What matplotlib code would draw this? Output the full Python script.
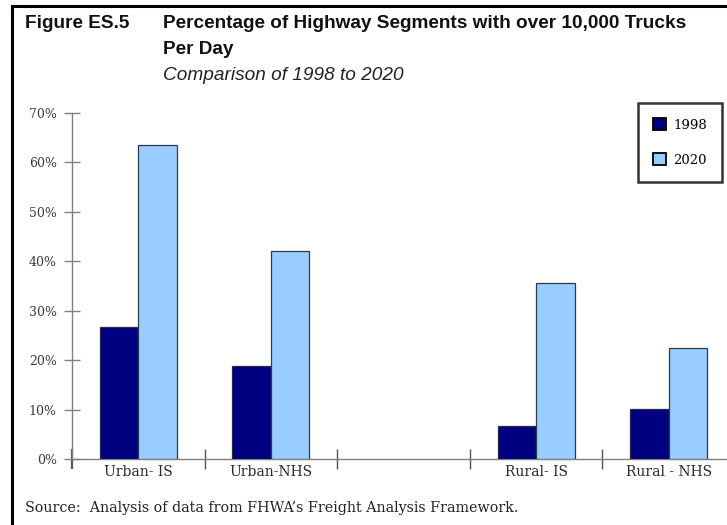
import numpy as np
import matplotlib
matplotlib.use("Agg")
import matplotlib.pyplot as plt
from matplotlib.patches import Patch
from matplotlib.lines import Line2D

# Data: share of highway segments carrying over 10,000 trucks per day
categories = ["Urban- IS", "Urban-NHS", "", "Rural- IS", "Rural - NHS"]
share_1998 = [26.7, 18.8, np.nan, 6.7, 10.1]
share_2020 = [63.6, 42.1, np.nan, 35.6, 22.5]
series_labels = ["1998", "2020"]
ytick_values = [0, 10, 20, 30, 40, 50, 60, 70]

dark = "#000080"
light = "#99CCFF"
axis_gray = "#808080"
serif = ["DejaVu Serif"]
sans = ["Liberation Sans", "DejaVu Sans"]

W, H = 727, 525
fig = plt.figure(figsize=(W / 100, H / 100), dpi=100)

# plot area in pixel coordinates
x0, x1 = 72, 735
y_bottom, y_top = 459, 113
ax = fig.add_axes([x0 / W, 1 - y_bottom / H, (x1 - x0) / W, (y_bottom - y_top) / H])

n = len(categories)
x = np.arange(n)
bw = 0.29
ax.bar(x - bw / 2, share_1998, bw, color=dark, edgecolor="#2a2a40", linewidth=0.9, zorder=3)
ax.bar(x + bw / 2, share_2020, bw, color=light, edgecolor="#2a3a50", linewidth=0.9, zorder=3)

ax.set_xlim(-0.5, n - 0.5)
ax.set_ylim(0, 70)

for s in ["top", "right"]:
    ax.spines[s].set_visible(False)
for s in ["left", "bottom"]:
    ax.spines[s].set_color(axis_gray)
    ax.spines[s].set_linewidth(1.0)

ax.set_yticks(ytick_values)
ax.set_yticklabels([f"{v}%" for v in ytick_values], fontfamily=serif, fontsize=9,
                   color="#3a3a3a")
ax.tick_params(axis="y", direction="inout", length=12, width=1, color=axis_gray, pad=5)

# category separators as major ticks, names centred as minor ticks
ax.set_xticks(np.arange(-0.5, n, 1.0))
ax.set_xticklabels([])
ax.tick_params(axis="x", which="major", direction="inout", length=15, width=1, color="#555555")
ax.xaxis.get_major_ticks()[0].tick1line.set_color("black")
ax.xaxis.get_major_ticks()[0].tick1line.set_markeredgewidth(1.6)
ax.set_xticks(x, minor=True)
ax.set_xticklabels(categories, minor=True, fontfamily=serif, fontsize=10, color="#2a2a2a")
ax.tick_params(axis="x", which="minor", length=0, pad=4)

# legend
handles = [Patch(facecolor=dark, edgecolor="black", linewidth=1.3),
           Patch(facecolor=light, edgecolor="black", linewidth=1.3)]
leg = fig.legend(handles, series_labels, loc="upper left",
                 bbox_to_anchor=(638 / W, 1 - 103 / H),
                 prop={"family": serif, "size": 9.5},
                 frameon=True, fancybox=False, handlelength=1.0, handleheight=1.0,
                 handletextpad=0.5, labelspacing=1.65, borderpad=1.15,
                 borderaxespad=0)
leg.get_frame().set_edgecolor("black")
leg.get_frame().set_linewidth(1.8)

# page frame lines
fig.add_artist(Line2D([12 / W, 12 / W], [0, 1 - 6 / H], transform=fig.transFigure,
                      color="black", linewidth=2.2))
fig.add_artist(Line2D([12 / W, 1], [1 - 6 / H, 1 - 6 / H], transform=fig.transFigure,
                      color="black", linewidth=2.2))

# headings
fs_title = 13.7
fig.text(25 / W, 1 - 23 / H, "Figure ES.5", fontfamily=sans, fontweight="bold",
         fontsize=fs_title, va="center", ha="left", color="#111111")
fig.text(163 / W, 1 - 23 / H, "Percentage of Highway Segments with over 10,000 Trucks",
         fontfamily=sans, fontweight="bold", fontsize=fs_title, va="center", ha="left",
         color="#111111")
fig.text(163 / W, 1 - 50 / H, "Per Day", fontfamily=sans, fontweight="bold",
         fontsize=fs_title, va="center", ha="left", color="#111111")
fig.text(163 / W, 1 - 76 / H, "Comparison of 1998 to 2020", fontfamily=sans, style="italic",
         fontsize=fs_title, va="center", ha="left", color="#222222")

fig.text(25 / W, 1 - 508 / H, "Source:  Analysis of data from FHWA\u2019s Freight Analysis Framework.",
         fontfamily=serif, fontsize=10.3, va="center", ha="left", color="#222222")

fig.savefig("out.png", dpi=100, facecolor="white")
